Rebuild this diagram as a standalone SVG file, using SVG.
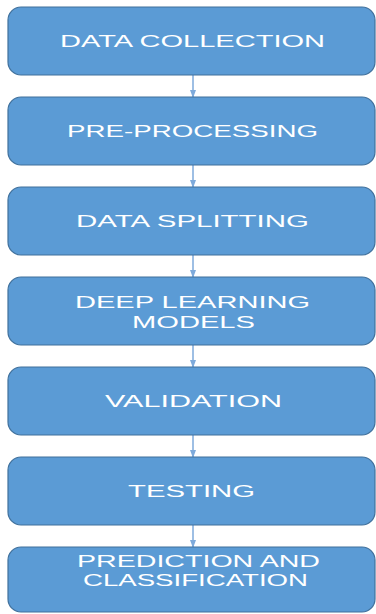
<svg xmlns="http://www.w3.org/2000/svg" width="376" height="614" viewBox="0 0 376 614">
<style>
.box{fill:#5B9BD5;stroke:#41719C;stroke-width:1.2}
.t{font-family:"Liberation Sans",Arial,sans-serif;font-size:17px;fill:#ffffff;text-anchor:middle}
.c{stroke:#7EAADB;stroke-width:1.5;fill:none}
</style>
<defs>
<marker id="ah" markerWidth="8" markerHeight="6" refX="7" refY="3" orient="auto" markerUnits="userSpaceOnUse">
<path d="M0,0 L8,3 L0,6 Z" fill="#7EAADB"/>
</marker>
</defs>
<rect width="376" height="614" fill="#ffffff"/>
<g id="connectors">
<line class="c" x1="193" y1="75" x2="193" y2="97" marker-end="url(#ah)"/>
<line class="c" x1="193" y1="165" x2="193" y2="187" marker-end="url(#ah)"/>
<line class="c" x1="193" y1="255" x2="193" y2="277" marker-end="url(#ah)"/>
<line class="c" x1="193" y1="345" x2="193" y2="367" marker-end="url(#ah)"/>
<line class="c" x1="193" y1="435" x2="193" y2="457" marker-end="url(#ah)"/>
<line class="c" x1="193" y1="525" x2="193" y2="547" marker-end="url(#ah)"/>
</g>
<g id="n1"><rect class="box" x="8" y="7" width="367" height="68" rx="13"/><text class="t" x="192.5" y="47" textLength="265" lengthAdjust="spacingAndGlyphs">DATA COLLECTION</text></g>
<g id="n2"><rect class="box" x="8" y="97" width="367" height="68" rx="13"/><text class="t" x="192.5" y="137" textLength="251" lengthAdjust="spacingAndGlyphs">PRE-PROCESSING</text></g>
<g id="n3"><rect class="box" x="8" y="187" width="367" height="68" rx="13"/><text class="t" x="192.5" y="227" textLength="233" lengthAdjust="spacingAndGlyphs">DATA SPLITTING</text></g>
<g id="n4"><rect class="box" x="8" y="277" width="367" height="68" rx="13"/><text class="t" x="192.5" y="308" textLength="235" lengthAdjust="spacingAndGlyphs">DEEP LEARNING</text><text class="t" x="193.5" y="328" textLength="123" lengthAdjust="spacingAndGlyphs">MODELS</text></g>
<g id="n5"><rect class="box" x="8" y="367" width="367" height="68" rx="13"/><text class="t" x="193.5" y="407" textLength="177" lengthAdjust="spacingAndGlyphs">VALIDATION</text></g>
<g id="n6"><rect class="box" x="8" y="457" width="367" height="68" rx="13"/><text class="t" x="191.5" y="497" textLength="127" lengthAdjust="spacingAndGlyphs">TESTING</text></g>
<g id="n7"><rect class="box" x="8" y="547" width="367" height="65" rx="13"/><text class="t" x="198.5" y="567" textLength="243" lengthAdjust="spacingAndGlyphs">PREDICTION AND</text><text class="t" x="195.5" y="586" textLength="225" lengthAdjust="spacingAndGlyphs">CLASSIFICATION</text></g>
</svg>
